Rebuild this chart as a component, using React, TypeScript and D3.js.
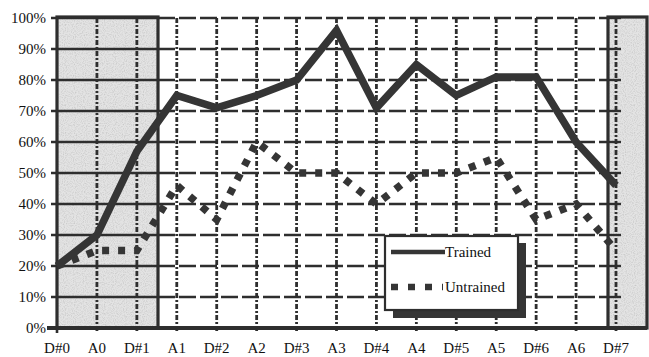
import React, { useEffect, useRef } from 'react';
import * as d3 from 'd3';

const categories = ['D#0', 'A0', 'D#1', 'A1', 'D#2', 'A2', 'D#3', 'A3', 'D#4', 'A4', 'D#5', 'A5', 'D#6', 'A6', 'D#7'];
const trained = [20, 30, 57, 75, 71, 75, 80, 96, 71, 85, 75, 81, 81, 60, 46];
const untrained = [20, 25, 25, 46, 35, 60, 50, 50, 40, 50, 50, 55, 35, 40, 25];
const yTicks = [0, 10, 20, 30, 40, 50, 60, 70, 80, 90, 100];

const ink = '#2e2e2e';
const shade = '#e3e3e3';

export default function App() {
    const ref = useRef<SVGSVGElement>(null);

    useEffect(() => {
        const svg = d3.select(ref.current);
        svg.selectAll('*').remove();

        const font = '"Liberation Serif", "Times New Roman", serif';

        // category positions sit on the ticks, like the old spreadsheet chart
        const x = d3.scalePoint<string>().domain(categories).range([57, 616]);
        const y = d3.scaleLinear().domain([0, 100]).range([328, 18]);

        const left = 57, right = 608;
        const shadeLeftEnd = 158;
        const shadeRight = [608, 647];

        // speckled grey for the shaded phases
        const defs = svg.append('defs');
        const f = defs.append('filter').attr('id', 'speckle').attr('x', 0).attr('y', 0).attr('width', 1).attr('height', 1);
        f.append('feTurbulence').attr('type', 'fractalNoise').attr('baseFrequency', 0.9).attr('numOctaves', 1).attr('result', 'n');
        f.append('feColorMatrix').attr('in', 'n').attr('type', 'matrix')
            .attr('values', '0 0 0 0 0.55  0 0 0 0 0.55  0 0 0 0 0.55  0 0 0 -2.2 1.25').attr('result', 'dots');
        f.append('feFlood').attr('flood-color', shade).attr('result', 'bg');
        f.append('feMerge').call(m => {
            m.append('feMergeNode').attr('in', 'bg');
            m.append('feMergeNode').attr('in', 'dots');
        });

        svg.append('rect')
            .attr('x', left).attr('y', y(100) - 2)
            .attr('width', shadeLeftEnd - left).attr('height', y(0) - y(100) + 2)
            .attr('fill', shade).attr('filter', 'url(#speckle)');
        svg.append('rect')
            .attr('x', shadeRight[0]).attr('y', y(100) - 2)
            .attr('width', shadeRight[1] - shadeRight[0]).attr('height', y(0) - y(100) + 2)
            .attr('fill', shade).attr('filter', 'url(#speckle)');

        // horizontal grid: long dashes in the open part, solid inside the shaded block
        const grid = svg.append('g');
        grid.selectAll('line.hdash')
            .data(yTicks.filter(d => d > 0))
            .enter()
                .append('line')
                .attr('x1', shadeLeftEnd).attr('x2', right)
                .attr('y1', d => y(d)).attr('y2', d => y(d))
                .attr('stroke', ink).attr('stroke-width', 2.6)
                .attr('stroke-dasharray', '17 4');
        grid.selectAll('line.hsolid')
            .data(yTicks.filter(d => d > 0))
            .enter()
                .append('line')
                .attr('x1', left - 6).attr('x2', shadeLeftEnd)
                .attr('y1', d => y(d)).attr('y2', d => y(d))
                .attr('stroke', ink).attr('stroke-width', 2.6);
        grid.selectAll('line.htick')
            .data(yTicks.filter(d => d > 0))
            .enter()
                .append('line')
                .attr('x1', right).attr('x2', x('D#7')! + 5)
                .attr('y1', d => y(d)).attr('y2', d => y(d))
                .attr('stroke', ink).attr('stroke-width', 2.4);

        // vertical grid: dash-dot lines at every category
        grid.selectAll('line.v')
            .data(categories.slice(1))
            .enter()
                .append('line')
                .attr('x1', d => x(d)!).attr('x2', d => x(d)!)
                .attr('y1', y(100)).attr('y2', y(0) + 5)
                .attr('stroke', ink).attr('stroke-width', 2.8)
                .attr('stroke-dasharray', '5 2 2 2');

        // block borders
        svg.append('rect')
            .attr('x', left).attr('y', y(100) - 1)
            .attr('width', shadeLeftEnd - left).attr('height', y(0) - y(100) + 1)
            .attr('fill', 'none').attr('stroke', ink).attr('stroke-width', 3.2);
        svg.append('rect')
            .attr('x', shadeRight[0]).attr('y', y(100) - 1)
            .attr('width', shadeRight[1] - shadeRight[0]).attr('height', y(0) - y(100) + 1)
            .attr('fill', 'none').attr('stroke', ink).attr('stroke-width', 3.2);

        // x axis
        svg.append('line')
            .attr('x1', left - 10).attr('x2', shadeRight[1])
            .attr('y1', y(0)).attr('y2', y(0))
            .attr('stroke', ink).attr('stroke-width', 4);
        svg.append('line')
            .attr('x1', left).attr('x2', left)
            .attr('y1', y(0)).attr('y2', y(0) + 5)
            .attr('stroke', ink).attr('stroke-width', 2.6);

        // tick labels
        svg.append('g')
            .selectAll('text')
            .data(yTicks)
            .enter()
                .append('text')
                .attr('x', 46)
                .attr('y', d => y(d) + 5)
                .attr('text-anchor', 'end')
                .attr('font-family', font)
                .attr('font-size', 15)
                .attr('fill', '#111')
                .text(d => d + '%');
        svg.append('g')
            .selectAll('text')
            .data(categories)
            .enter()
                .append('text')
                .attr('x', d => x(d)!)
                .attr('y', 353)
                .attr('text-anchor', 'middle')
                .attr('font-family', font)
                .attr('font-size', 15)
                .attr('fill', '#111')
                .text(d => d);

        // series
        const line = d3.line<number>()
            .x((d, i) => x(categories[i])!)
            .y(d => y(d));

        svg.append('path')
            .datum(untrained)
            .attr('d', line)
            .attr('fill', 'none')
            .attr('stroke', '#353535')
            .attr('stroke-width', 7.5)
            .attr('stroke-dasharray', '7 9');

        svg.append('path')
            .datum(trained)
            .attr('d', line)
            .attr('fill', 'none')
            .attr('stroke', '#353535')
            .attr('stroke-width', 7.5)
            .attr('stroke-linejoin', 'miter');

        // legend with drop shadow
        const lg = svg.append('g');
        lg.append('rect')
            .attr('x', 393).attr('y', 243).attr('width', 133).attr('height', 75)
            .attr('fill', '#353535');
        lg.append('rect')
            .attr('x', 385).attr('y', 236).attr('width', 133).attr('height', 74)
            .attr('fill', '#fff').attr('stroke', ink).attr('stroke-width', 2.2);
        lg.append('line')
            .attr('x1', 391).attr('x2', 445).attr('y1', 252).attr('y2', 252)
            .attr('stroke', '#353535').attr('stroke-width', 4.5);
        lg.append('line')
            .attr('x1', 391).attr('x2', 443).attr('y1', 287).attr('y2', 287)
            .attr('stroke', '#353535').attr('stroke-width', 6.5)
            .attr('stroke-dasharray', '7 10');
        lg.append('text')
            .attr('x', 445).attr('y', 257)
            .attr('font-family', font).attr('font-size', 15).attr('fill', '#111')
            .text('Trained');
        lg.append('text')
            .attr('x', 445).attr('y', 292)
            .attr('font-family', font).attr('font-size', 15).attr('fill', '#111')
            .text('Untrained');
    }, []);

    return (
        <svg ref={ref} width={649} height={357}
            style={{ position: 'absolute', left: 0, top: 0, background: '#fff' }} />
    );
}
